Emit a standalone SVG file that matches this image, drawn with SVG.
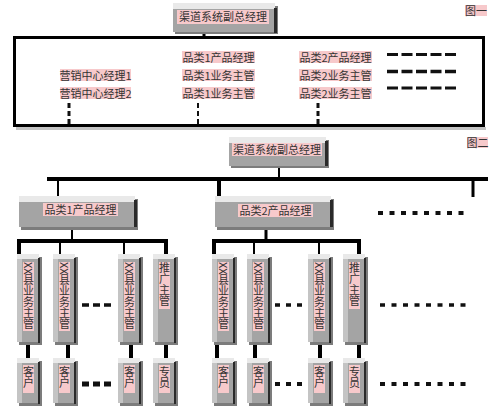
<svg xmlns="http://www.w3.org/2000/svg" width="499" height="414" viewBox="0 0 499 414">
<style>
text{font-family:"Noto Sans CJK SC","Noto Sans CJK TC",sans-serif;fill:#333;font-size:11px}
.hl{fill:#f7c9cb}
.body{fill:#a4a4a4}
.lite{fill:#c4c4c4}
.cap{fill:#e9e9e9}
.edge{fill:#2a2a2a}
.shade{fill:#7c7c7c}
.vt{writing-mode:vertical-rl;text-orientation:mixed}
.ln{stroke:#000;fill:none}
.dash{stroke:#111;fill:none}
</style>
<rect width="499" height="414" fill="#fff"/>

<g id="connectors">
  <!-- figure 1 -->
  <line class="ln" x1="204" y1="33" x2="204" y2="38" stroke-width="3"/>
  <line class="dash" x1="69" y1="103" x2="69" y2="126" stroke-width="3" stroke-dasharray="5,3"/>
  <line class="dash" x1="198" y1="103" x2="198" y2="126" stroke-width="2" stroke-dasharray="5,3"/>
  <line class="dash" x1="318" y1="103" x2="318" y2="126" stroke-width="3" stroke-dasharray="5,3"/>
  <!-- figure 2 -->
  <line class="ln" x1="279" y1="167" x2="279" y2="179" stroke-width="2"/>
  <line class="ln" x1="47" y1="179" x2="488" y2="179" stroke-width="4"/>
  <line class="ln" x1="58" y1="179" x2="58" y2="196" stroke-width="2"/>
  <line class="ln" x1="219" y1="179" x2="219" y2="196" stroke-width="4"/>
  <line class="ln" x1="473" y1="179" x2="473" y2="197" stroke-width="3"/>
  <line class="ln" x1="72" y1="229" x2="72" y2="241" stroke-width="2"/>
  <path class="ln" d="M19 255 V241 H166 V255" stroke-width="4"/>
  <line class="ln" x1="60" y1="241" x2="60" y2="255" stroke-width="2"/>
  <line class="ln" x1="124" y1="241" x2="124" y2="255" stroke-width="2"/>
  <line class="ln" x1="266" y1="229" x2="266" y2="241" stroke-width="3"/>
  <path class="ln" d="M214 255 V241 H359 V255" stroke-width="4"/>
  <line class="ln" x1="254" y1="241" x2="254" y2="255" stroke-width="2"/>
  <line class="ln" x1="319" y1="241" x2="319" y2="255" stroke-width="2"/>
  <g stroke-width="4" class="ln">
    <line x1="28" y1="343" x2="28" y2="359"/>
    <line x1="68" y1="343" x2="68" y2="359"/>
    <line x1="131" y1="343" x2="131" y2="359"/>
    <line x1="166" y1="343" x2="166" y2="359"/>
    <line x1="217" y1="343" x2="217" y2="359"/>
    <line x1="255" y1="343" x2="255" y2="359"/>
    <line x1="320" y1="343" x2="320" y2="359"/>
    <line x1="359" y1="343" x2="359" y2="359"/>
  </g>
</g>

<!-- Figure 1 -->
<g id="fig1-label"><rect class="hl" x="465" y="5" width="22" height="11"/><text x="476" y="14.5" text-anchor="middle" font-size="10">图一</text></g>

<g id="fig1-top">
  <rect class="shade" x="175" y="6" width="103" height="28"/>
  <rect class="body" x="173" y="3" width="102" height="29"/>
  <rect class="cap" x="173" y="3" width="102" height="6"/>
  <rect class="edge" x="274" y="8" width="3" height="25"/>
  <rect class="hl" x="177" y="10" width="92" height="14"/>
  <text x="223" y="21" text-anchor="middle">渠道系统副总经理</text>
</g>

<g id="fig1-frame">
  <rect x="16" y="127" width="470" height="3" fill="#c4c4c4"/>
  <rect x="14.5" y="37.5" width="469" height="88" fill="none" stroke="#000" stroke-width="3"/>
</g>

<g id="fig1-col1">
  <rect class="hl" x="60" y="69" width="71" height="12"/><text x="95.5" y="79.5" text-anchor="middle">营销中心经理1</text>
  <rect class="hl" x="60" y="87" width="71" height="12"/><text x="95.5" y="97.5" text-anchor="middle">营销中心经理2</text>
</g>
<g id="fig1-col2">
  <rect class="hl" x="182" y="51" width="73" height="12"/><text x="218.5" y="61.5" text-anchor="middle">品类1产品经理</text>
  <rect class="hl" x="182" y="69" width="73" height="12"/><text x="218.5" y="79.5" text-anchor="middle">品类1业务主管</text>
  <rect class="hl" x="182" y="87" width="73" height="12"/><text x="218.5" y="97.5" text-anchor="middle">品类1业务主管</text>
</g>
<g id="fig1-col3">
  <rect class="hl" x="299" y="51" width="73" height="12"/><text x="335.5" y="61.5" text-anchor="middle">品类2产品经理</text>
  <rect class="hl" x="299" y="69" width="73" height="12"/><text x="335.5" y="79.5" text-anchor="middle">品类2业务主管</text>
  <rect class="hl" x="299" y="87" width="73" height="12"/><text x="335.5" y="97.5" text-anchor="middle">品类2业务主管</text>
</g>
<g id="fig1-more">
  <line class="dash" x1="387" y1="54.5" x2="457" y2="54.5" stroke-width="3" stroke-dasharray="11,3.5"/>
  <line class="dash" x1="387" y1="71.5" x2="457" y2="71.5" stroke-width="3.5" stroke-dasharray="11,3.5"/>
  <line class="dash" x1="387" y1="88" x2="457" y2="88" stroke-width="3" stroke-dasharray="11,3.5"/>
</g>

<!-- Figure 2 -->
<g id="fig2-label"><rect class="hl" x="467" y="137" width="21" height="11"/><text x="477.5" y="146.5" text-anchor="middle" font-size="10">图二</text></g>

<g id="fig2-top">
  <rect class="shade" x="231" y="140" width="98" height="28"/>
  <rect class="body" x="229" y="137" width="97" height="29"/>
  <rect class="cap" x="229" y="137" width="97" height="6"/>
  <rect class="edge" x="325" y="141" width="3" height="25"/>
  <rect class="hl" x="232" y="143" width="90" height="13"/>
  <text x="277" y="154" text-anchor="middle">渠道系统副总经理</text>
</g>

<g id="fig2-pm1">
  <rect class="shade" x="21" y="199" width="117" height="31"/>
  <rect class="body" x="19" y="196" width="116" height="31"/>
  <rect class="cap" x="19" y="196" width="116" height="6"/>
  <rect class="edge" x="134" y="200" width="3" height="27"/>
  <rect class="hl" x="43" y="203" width="75" height="13"/>
  <text x="80.5" y="214" text-anchor="middle">品类1产品经理</text>
</g>
<g id="fig2-pm2">
  <rect class="shade" x="217" y="199" width="117" height="31"/>
  <rect class="body" x="215" y="196" width="116" height="31"/>
  <rect class="cap" x="215" y="196" width="116" height="6"/>
  <rect class="edge" x="330" y="200" width="3" height="27"/>
  <rect class="hl" x="238" y="204" width="75" height="13"/>
  <text x="275.5" y="215" text-anchor="middle">品类2产品经理</text>
</g>
<g id="fig2-more">
  <line class="dash" x1="378" y1="213" x2="467" y2="213" stroke-width="4" stroke-dasharray="5,6.5"/>
</g>

<!-- tall boxes group 1 -->
<g id="g1-s1">
  <rect class="shade" x="19" y="257" width="23" height="88"/>
  <rect class="body" x="17" y="254" width="22" height="88"/>
  <rect class="lite" x="17" y="254" width="5" height="88"/>
  <rect class="cap" x="17" y="254" width="22" height="5"/>
  <rect class="edge" x="38" y="258" width="2" height="85"/>
  <rect class="hl" x="23" y="262" width="11" height="69"/>
  <text class="vt" x="28.5" y="262">XX县业务主管</text>
</g>
<g id="g1-s2">
  <rect class="shade" x="55" y="257" width="23" height="88"/>
  <rect class="body" x="53" y="254" width="22" height="88"/>
  <rect class="lite" x="53" y="254" width="5" height="88"/>
  <rect class="cap" x="53" y="254" width="22" height="5"/>
  <rect class="edge" x="74" y="258" width="2" height="85"/>
  <rect class="hl" x="59" y="262" width="11" height="69"/>
  <text class="vt" x="64.5" y="262">XX县业务主管</text>
</g>
<g id="g1-s3">
  <rect class="shade" x="120" y="257" width="23" height="88"/>
  <rect class="body" x="118" y="254" width="22" height="88"/>
  <rect class="lite" x="118" y="254" width="5" height="88"/>
  <rect class="cap" x="118" y="254" width="22" height="5"/>
  <rect class="edge" x="139" y="258" width="2" height="85"/>
  <rect class="hl" x="124" y="262" width="11" height="69"/>
  <text class="vt" x="129.5" y="262">XX县业务主管</text>
</g>
<g id="g1-s4">
  <rect class="shade" x="155" y="257" width="23" height="88"/>
  <rect class="body" x="153" y="254" width="22" height="88"/>
  <rect class="lite" x="153" y="254" width="5" height="88"/>
  <rect class="cap" x="153" y="254" width="22" height="5"/>
  <rect class="edge" x="174" y="258" width="2" height="85"/>
  <rect class="hl" x="159" y="262" width="11" height="47"/>
  <text class="vt" x="164.5" y="262">推广主管</text>
</g>
<g id="g1-dash"><line class="dash" x1="82" y1="305" x2="112" y2="305" stroke-width="3.5" stroke-dasharray="7,4"/></g>

<!-- tall boxes group 2 -->
<g id="g2-s1">
  <rect class="shade" x="214" y="257" width="23" height="88"/>
  <rect class="body" x="212" y="254" width="22" height="88"/>
  <rect class="lite" x="212" y="254" width="5" height="88"/>
  <rect class="cap" x="212" y="254" width="22" height="5"/>
  <rect class="edge" x="233" y="258" width="2" height="85"/>
  <rect class="hl" x="218" y="262" width="11" height="69"/>
  <text class="vt" x="223.5" y="262">XX县业务主管</text>
</g>
<g id="g2-s2">
  <rect class="shade" x="249" y="257" width="23" height="88"/>
  <rect class="body" x="247" y="254" width="22" height="88"/>
  <rect class="lite" x="247" y="254" width="5" height="88"/>
  <rect class="cap" x="247" y="254" width="22" height="5"/>
  <rect class="edge" x="268" y="258" width="2" height="85"/>
  <rect class="hl" x="253" y="262" width="11" height="69"/>
  <text class="vt" x="258.5" y="262">XX县业务主管</text>
</g>
<g id="g2-s3">
  <rect class="shade" x="310" y="257" width="23" height="88"/>
  <rect class="body" x="308" y="254" width="22" height="88"/>
  <rect class="lite" x="308" y="254" width="5" height="88"/>
  <rect class="cap" x="308" y="254" width="22" height="5"/>
  <rect class="edge" x="329" y="258" width="2" height="85"/>
  <rect class="hl" x="314" y="262" width="11" height="69"/>
  <text class="vt" x="319.5" y="262">XX县业务主管</text>
</g>
<g id="g2-s4">
  <rect class="shade" x="345" y="257" width="23" height="88"/>
  <rect class="body" x="343" y="254" width="22" height="88"/>
  <rect class="lite" x="343" y="254" width="5" height="88"/>
  <rect class="cap" x="343" y="254" width="22" height="5"/>
  <rect class="edge" x="364" y="258" width="2" height="85"/>
  <rect class="hl" x="349" y="262" width="11" height="47"/>
  <text class="vt" x="354.5" y="262">推广主管</text>
</g>
<g id="g2-dash"><line class="dash" x1="275" y1="305" x2="305" y2="305" stroke-width="3.5" stroke-dasharray="5,6"/></g>
<g id="g2-more"><line class="dash" x1="380" y1="305" x2="468" y2="305" stroke-width="3.5" stroke-dasharray="5,6.5"/></g>

<!-- bottom boxes group 1 -->
<g id="g1-c1">
  <rect class="shade" x="19" y="361" width="23" height="45"/>
  <rect class="body" x="17" y="358" width="22" height="45"/>
  <rect class="lite" x="17" y="358" width="5" height="45"/>
  <rect class="cap" x="17" y="358" width="22" height="5"/>
  <rect class="edge" x="38" y="362" width="2" height="42"/>
  <rect class="hl" x="23" y="365" width="11" height="28"/>
  <text class="vt" x="28.5" y="366" font-size="12">客户</text>
</g>
<g id="g1-c2">
  <rect class="shade" x="55" y="361" width="23" height="45"/>
  <rect class="body" x="53" y="358" width="22" height="45"/>
  <rect class="lite" x="53" y="358" width="5" height="45"/>
  <rect class="cap" x="53" y="358" width="22" height="5"/>
  <rect class="edge" x="74" y="362" width="2" height="42"/>
  <rect class="hl" x="59" y="365" width="11" height="28"/>
  <text class="vt" x="64.5" y="366" font-size="12">客户</text>
</g>
<g id="g1-c3">
  <rect class="shade" x="120" y="361" width="23" height="45"/>
  <rect class="body" x="118" y="358" width="22" height="45"/>
  <rect class="lite" x="118" y="358" width="5" height="45"/>
  <rect class="cap" x="118" y="358" width="22" height="5"/>
  <rect class="edge" x="139" y="362" width="2" height="42"/>
  <rect class="hl" x="124" y="365" width="11" height="28"/>
  <text class="vt" x="129.5" y="366" font-size="12">客户</text>
</g>
<g id="g1-c4">
  <rect class="shade" x="155" y="361" width="23" height="45"/>
  <rect class="body" x="153" y="358" width="22" height="45"/>
  <rect class="lite" x="153" y="358" width="5" height="45"/>
  <rect class="cap" x="153" y="358" width="22" height="5"/>
  <rect class="edge" x="174" y="362" width="2" height="42"/>
  <rect class="hl" x="159" y="365" width="11" height="28"/>
  <text class="vt" x="164.5" y="366" font-size="12">专员</text>
</g>
<g id="g1-cdash"><line class="dash" x1="82" y1="384" x2="112" y2="384" stroke-width="5" stroke-dasharray="7,4"/></g>

<!-- bottom boxes group 2 -->
<g id="g2-c1">
  <rect class="shade" x="214" y="361" width="23" height="45"/>
  <rect class="body" x="212" y="358" width="22" height="45"/>
  <rect class="lite" x="212" y="358" width="5" height="45"/>
  <rect class="cap" x="212" y="358" width="22" height="5"/>
  <rect class="edge" x="233" y="362" width="2" height="42"/>
  <rect class="hl" x="218" y="365" width="11" height="28"/>
  <text class="vt" x="223.5" y="366" font-size="12">客户</text>
</g>
<g id="g2-c2">
  <rect class="shade" x="249" y="361" width="23" height="45"/>
  <rect class="body" x="247" y="358" width="22" height="45"/>
  <rect class="lite" x="247" y="358" width="5" height="45"/>
  <rect class="cap" x="247" y="358" width="22" height="5"/>
  <rect class="edge" x="268" y="362" width="2" height="42"/>
  <rect class="hl" x="253" y="365" width="11" height="28"/>
  <text class="vt" x="258.5" y="366" font-size="12">客户</text>
</g>
<g id="g2-c3">
  <rect class="shade" x="310" y="361" width="23" height="45"/>
  <rect class="body" x="308" y="358" width="22" height="45"/>
  <rect class="lite" x="308" y="358" width="5" height="45"/>
  <rect class="cap" x="308" y="358" width="22" height="5"/>
  <rect class="edge" x="329" y="362" width="2" height="42"/>
  <rect class="hl" x="314" y="365" width="11" height="28"/>
  <text class="vt" x="319.5" y="366" font-size="12">客户</text>
</g>
<g id="g2-c4">
  <rect class="shade" x="345" y="361" width="23" height="45"/>
  <rect class="body" x="343" y="358" width="22" height="45"/>
  <rect class="lite" x="343" y="358" width="5" height="45"/>
  <rect class="cap" x="343" y="358" width="22" height="5"/>
  <rect class="edge" x="364" y="362" width="2" height="42"/>
  <rect class="hl" x="349" y="365" width="11" height="28"/>
  <text class="vt" x="354.5" y="366" font-size="12">专员</text>
</g>
<g id="g2-cdash"><line class="dash" x1="275" y1="384" x2="305" y2="384" stroke-width="4" stroke-dasharray="5,6"/></g>
<g id="g2-cmore"><line class="dash" x1="380" y1="384" x2="468" y2="384" stroke-width="4" stroke-dasharray="5,6.5"/></g>
</svg>
